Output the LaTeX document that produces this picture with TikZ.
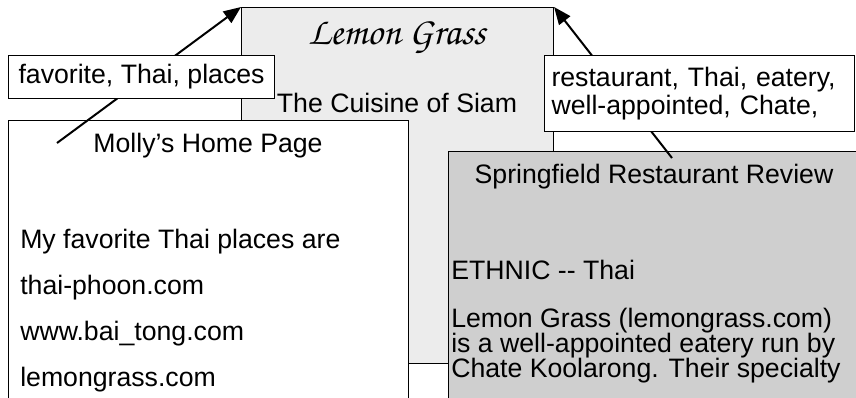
\documentclass[tikz,border=0pt]{standalone}
\usepackage{fontspec}
\setmainfont{Liberation Sans}
\newfontfamily\scriptface{TeX Gyre Chorus}
\usetikzlibrary{arrows.meta}

\definecolor{pagelight}{gray}{0.925}
\definecolor{pagedark}{gray}{0.81}

\begin{document}
\begin{tikzpicture}[x=0.75pt, y=-0.75pt,
  every node/.style={font=\fontsize{20}{21}\selectfont},
  page/.style={draw=black, line width=0.8pt, anchor=north west, inner sep=0pt},
  tagbox/.style={draw=black, fill=white, line width=0.8pt, anchor=north west, align=left},
  link/.style={-{Triangle[length=13pt,width=10.5pt]}, line width=1.5pt}]
  \clip (0,0) rectangle (856,397);

  % the page that is linked to
  \node[page, fill=pagelight, minimum width=234pt, minimum height=267pt] (lemon) at (241,7) {};
  \node (lemontitle) at (397,38) {\scriptface\fontsize{29}{29}\selectfont Lemon Grass};
  \node[anchor=base] (lemonsub) at (397,112) {The Cuisine of Siam};

  % Molly's page
  \node[page, fill=white, minimum width=300pt, minimum height=212pt] (molly) at (8,120) {};
  \node[anchor=base] (mollytitle) at (208,152) {Molly’s Home Page};
  \foreach \t [count=\i] in {My favorite Thai places are, thai-phoon.com, www.bai\_tong.com, lemongrass.com}
    \node[anchor=base west, inner xsep=0pt] (molly\i) at (20,202+46*\i) {\t};

  % review page
  \node[page, fill=pagedark, minimum width=308pt, minimum height=190pt] (review) at (448,151) {};
  \node[anchor=base] (reviewtitle) at (654,183) {Springfield Restaurant Review};
  \node[anchor=base west, inner xsep=0pt] (ethnic) at (451,279) {ETHNIC -{}- Thai};
  \foreach \t [count=\i] in {Lemon Grass (lemongrass.com), is a well-appointed eatery run by, Chate Koolarong. Their specialty}
    \node[anchor=base west, inner xsep=0pt] (review\i) at (451,302+25*\i) {\t};

  % links, their tails sit on the linking pages
  \coordinate (mollytail) at (57,143);
  \coordinate (reviewtail) at (672,158);
  \draw[link] (mollytail) -- (lemon.north west);
  \draw[link] (reviewtail) -- (lemon.north east);

  % anchor text boxes
  \node[tagbox, inner xsep=7.5pt, minimum height=32pt] (mollytag) at (8,55) {favorite, Thai, places};
  \node[tagbox, inner xsep=5.25pt, text width=222pt, minimum height=57pt] (reviewtag) at (544,55)
    {restaurant, Thai, eatery,\\well-appointed, Chate,};
\end{tikzpicture}
\end{document}
